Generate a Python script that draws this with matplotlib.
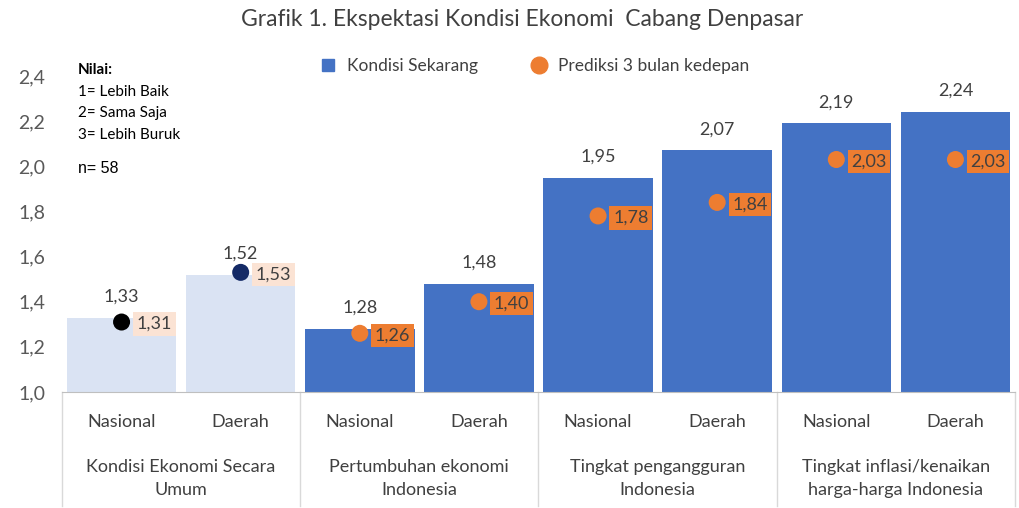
import matplotlib; matplotlib.use("Agg")
import matplotlib.pyplot as plt
import matplotlib.transforms as mtransforms
from matplotlib.lines import Line2D

# data
groups = ["Kondisi Ekonomi Secara\nUmum", "Pertumbuhan ekonomi\nIndonesia",
          "Tingkat pengangguran\nIndonesia", "Tingkat inflasi/kenaikan\nharga-harga Indonesia"]
subcats = ["Nasional", "Daerah"]
sekarang = [1.33, 1.52, 1.28, 1.48, 1.95, 2.07, 2.19, 2.24]
prediksi = [1.31, 1.53, 1.26, 1.40, 1.78, 1.84, 2.03, 2.03]
yticks = [1.0, 1.2, 1.4, 1.6, 1.8, 2.0, 2.2, 2.4]

plt.rcParams.update({"font.family": ["Lato", "DejaVu Sans"], "font.size": 12})
BLUE = "#4472C4"; LIGHT = "#DAE3F3"; ORANGE = "#ED7D31"; PEACH = "#FBE3D4"
TXT = "#404040"

fig = plt.figure(figsize=(10.2, 5.08), dpi=100, facecolor="white")
ax = fig.add_axes([62/1020, 116/508, 953/1020, 316/508])
x = list(range(len(sekarang)))
bar_cols = [LIGHT, LIGHT] + [BLUE]*6
ax.bar(x, [v-1.0 for v in sekarang], bottom=1.0, width=0.92, color=bar_cols, zorder=2)
ax.set_xlim(-0.5, 7.5); ax.set_ylim(1.0, 2.4)
ax.set_yticks(yticks)
ax.set_yticklabels([f"{t:.1f}".replace(".", ",") for t in yticks], color="#595959", fontsize=14)
ax.tick_params(axis="y", length=0, pad=12)
ax.set_xticks([])
for s in ("top", "right", "left"): ax.spines[s].set_visible(False)
ax.spines["bottom"].set_color("#BFBFBF")

fmt = lambda v: f"{v:.2f}".replace(".", ",")
dot_cols = ["black", "#142A66"] + [ORANGE]*6
box_cols = [PEACH, PEACH] + [ORANGE]*6
for i in x:
    ax.annotate(fmt(sekarang[i]), (i, sekarang[i]), xytext=(0, 21), textcoords="offset pixels",
                ha="center", va="center", color=TXT, fontsize=13, zorder=4)
    ax.scatter(i, prediksi[i], s=150, color=dot_cols[i], zorder=5, edgecolors="none")
    ax.annotate(fmt(prediksi[i]), (i, prediksi[i]), xytext=(15, -2), textcoords="offset pixels",
                ha="left", va="center", color=TXT, fontsize=13, zorder=6,
                bbox=dict(boxstyle="square,pad=0.2", fc=box_cols[i], ec="none"))

# multi-level category axis
tr = mtransforms.blended_transform_factory(ax.transData, ax.transAxes)
for i in x:
    ax.text(i, -0.095, subcats[i % 2], transform=tr, ha="center", va="center", color=TXT, fontsize=13)
for g, name in enumerate(groups):
    ax.text(2*g+0.5, -0.275, name, transform=tr, ha="center", va="center", color=TXT,
            fontsize=13, linespacing=1.55)
for b in [-0.5, 1.5, 3.5, 5.5, 7.5]:
    ax.plot([b, b], [0, -0.36], transform=tr, color="#D9D9D9", lw=1, clip_on=False)

# note box
fig.text(78/1020, 1-70/508, "Nilai:", fontsize=11, fontweight="bold", va="center")
for k, line in enumerate(["1= Lebih Baik", "2= Sama Saja", "3= Lebih Buruk"]):
    fig.text(78/1020, 1-(92+21.5*k)/508, line, fontsize=11, va="center")
fig.text(78/1020, 1-168/508, "n= 58", fontsize=11.5, va="center", family="Liberation Sans")

fig.text(522/1020, 1-20/508, "Grafik 1. Ekspektasi Kondisi Ekonomi  Cabang Denpasar",
         ha="center", va="center", fontsize=16.5, color=TXT)
handles = [Line2D([], [], marker="s", ls="none", color=BLUE, ms=9),
           Line2D([], [], marker="o", ls="none", color=ORANGE, ms=12)]
fig.legend(handles, ["Kondisi Sekarang", "Prediksi 3 bulan kedepan"], loc="center",
           bbox_to_anchor=(530/1020, 1-66/508), ncol=2, frameon=False, fontsize=12.5,
           handletextpad=0.1, columnspacing=2.5, labelcolor=TXT)

fig.savefig("out.png", dpi=100, facecolor="white")
